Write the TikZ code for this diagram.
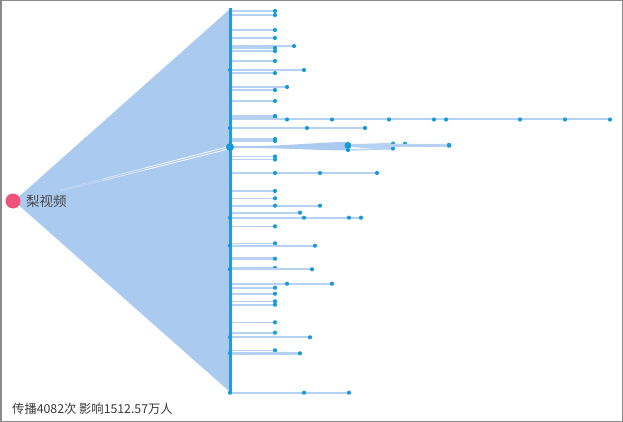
\documentclass[tikz,border=0pt]{standalone}
\usepackage{fontspec}
\usetikzlibrary{calc}
\setmainfont{Noto Sans CJK SC}
\definecolor{fanc}{HTML}{AACAF0}
\definecolor{linec}{HTML}{B6D1F1}
\definecolor{spinec}{HTML}{239ADC}
\definecolor{dotc}{HTML}{1A9AD6}
\definecolor{rootc}{HTML}{F0537A}
\definecolor{framec}{HTML}{8A8A8A}
\tikzset{
  dot/.style={circle,fill=dotc,inner sep=0pt,minimum size=4.2pt},
  bigdot/.style={circle,fill=dotc,inner sep=0pt,minimum size=7pt},
  branch/.style={draw=linec,line width=#1},
  labeltxt/.style={text=black!72,inner sep=0pt},
}
\begin{document}
\begin{tikzpicture}[x=1pt,y=-1pt]
\useasboundingbox (0,0) rectangle (623,422);
\draw[framec,line width=1.5pt] (0.75,0.75) rectangle (622.25,421.25);
% root and spine
\coordinate (top) at (230,8);
\coordinate (bot) at (230,393);
\coordinate (ftop) at (230,9);
\coordinate (fbot) at (230,392);
\coordinate (rootc) at (14,201);
\fill[fanc] (rootc) -- (ftop) -- (fbot) -- cycle;
\coordinate (mida) at (230,146.3);
\coordinate (midb) at (230,148.6);
\coordinate (rla) at (60,189.8);
\coordinate (rlb) at (60,191.3);
\foreach \s/\e/\o in {0/0.25/0.25, 0.25/0.5/0.55, 0.5/1/0.9}{
  \draw[white,opacity=\o,line width=0.8pt] ($(rla)!\s!(mida)$) -- ($(rla)!\e!(mida)$);
  \draw[white,opacity=\o,line width=0.8pt] ($(rlb)!\s!(midb)$) -- ($(rlb)!\e!(midb)$);
}
% branches: y / list of dot x / width
\foreach \y/\xl/\w [count=\i] in {
  11/{275}/2.2, 15/{275}/1.6, 30/{275}/1.6, 38/{275}/1.6, 46/{294}/2,
  48/{275}/1.6, 51/{275}/1.6, 61/{275}/1.6, 70/{304}/2.4, 73/{275}/1.6,
  87/{287}/1.8, 90/{275}/1.4, 101/{275}/1.6, 116/{275}/1.6, 117.5/{275}/1.6,
  119.5/{287,332,389,434,446,520,565,610}/2, 128/{307,365}/1.8,
  139/{275}/1.4, 141/{275}/1.6, 156.5/{275}/1.6, 159.5/{275}/1.6,
  173/{275,320,377}/1.6, 191/{275}/2.8, 198.3/{275}/1.6,
  205.7/{275,320}/1.6, 212.7/{300}/1.8, 217.7/{304,349,361}/2,
  226.3/{275}/1.6, 243.3/{275}/1.6, 245.7/{315}/2, 258.7/{275}/2.8,
  268/{275}/1.6, 269.3/{312}/2, 283.7/{287,332}/1.6, 287.7/{275}/1.6,
  293.7/{275}/1.6, 301.3/{275}/1.6, 304.7/{275}/1.6, 322.3/{275}/1.6,
  332.7/{275}/1.6, 337.3/{310}/2, 350.3/{275}/1.6, 353.3/{300}/3,
  392.7/{304,349}/2}
{
  \coordinate (c\i-0) at (230,\y);
  \foreach \x [count=\j] in \xl {
    \coordinate (c\i-\j) at (\x,\y);
  }
  \foreach \x [count=\j, remember=\j as \pj (initially 0)] in \xl {
    \draw[branch=\w] (c\i-\pj) -- (c\i-\j);
  }
  \foreach \x [count=\j] in \xl {
    \node[dot] (d\i-\j) at (c\i-\j) {};
  }
}
% middle cluster
\coordinate (mid) at (230,147);
\fill[fanc] (230,146.2) .. controls (290,146.5) and (320,141.8) .. (348,142)
  -- (348,150.5) .. controls (320,150.5) and (290,148) .. (230,147.8) -- cycle;
\node[bigdot] (m1) at (348,145.5) {};
\node[dot] (m2) at (348,150) {};
\node[dot] (m3) at (393,143.6) {};
\node[dot] (m4) at (393,148.6) {};
\node[dot] (m5) at (405,143.7) {};
\node[dot,minimum size=5pt] (m6) at (449,145.3) {};
\draw[branch=2.8] (m1) -- (m4);
\draw[branch=1.8] (m1) -- (m3);
\draw[branch=3] (m1) -- (m6);
\draw[branch=1.6] (m2) -- (m4);
% spine
\draw[spinec,line width=3pt] (top) -- (bot);
% dots on spine
\foreach \y/\n in {70/sa,128/sb,217.7/sc,245.7/sd,269.3/se,337.3/sf,353.3/sg,392.7/sh}
  \node[dot] (\n) at (230,\y) {};
\node[bigdot,minimum size=8pt] (midn) at (mid) {};
% root
\node[circle,fill=rootc,inner sep=0pt,minimum size=15pt] (root) at (13,201) {};
\node[labeltxt,anchor=west,font=\fontsize{13.5}{14}\selectfont] (rl) at (26,201) {梨视频};
\node[labeltxt,anchor=west,font=\fontsize{12.3}{13}\selectfont,text=black!78] (info) at (12,409) {传播4082次 影响1512.57万人};
\end{tikzpicture}
\end{document}
